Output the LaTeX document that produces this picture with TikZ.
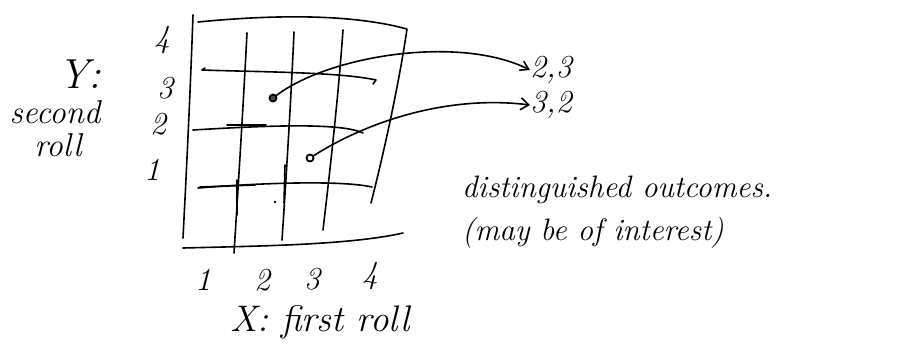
\documentclass[tikz,border=0pt]{standalone}
\usetikzlibrary{arrows.meta}
\begin{document}
\begin{tikzpicture}[x=1pt,y=-1pt,
  ink/.style={line width=1.6pt,line cap=round,line join=round},
  hand/.style={font=\itshape\fontsize{31}{34}\selectfont,inner sep=0pt},
  lab/.style={font=\itshape\fontsize{32}{34}\selectfont,inner sep=0pt},
  dotmark/.style={circle,draw,line width=1.8pt,minimum size=7pt,inner sep=0pt}]
\useasboundingbox (0,0) rectangle (902,359);
% outer frame
\draw[ink] (193,15) .. controls (190,100) and (186,180) .. (183,238);
\draw[ink] (198,22) .. controls (270,15) and (340,14) .. (395,26) -- (407,29)
  .. controls (398,90) and (382,160) .. (371,203);
\draw[ink] (183,248) .. controls (260,246) and (350,245) .. (403,233);
% vertical grid lines
\draw[ink] (247,33) .. controls (243,110) and (238,190) .. (234,253);
\draw[ink] (294,32) .. controls (291,100) and (286,180) .. (282,240);
\draw[ink] (343,30) .. controls (338,100) and (330,170) .. (323,230);
% horizontal grid lines
\draw[ink] (205,68) -- (202,70) .. controls (260,72) and (340,72) .. (376,80) -- (373,84);
\draw[ink] (193,130) .. controls (260,126) and (340,122) .. (363,133);
\draw[ink] (227,125) -- (266,125);
\draw[ink] (198,188) .. controls (260,183) and (340,180) .. (372,187);
\draw[ink] (200,187) -- (255,185);
\draw[ink] (237,180) -- (237,215);
\draw[ink] (285,165) -- (284,203);
\fill (275,202) circle (1.3pt);
% dots
\node[dotmark,fill=black!70] (d23) at (273,98) {};
\node[dotmark] (d32) at (310,158) {};
% outcome labels
\node[lab,anchor=west] (o23) at (530,70) {2,3};
\node[lab,anchor=west] (o32) at (530,105) {3,2};
\draw[ink,-{Straight Barb[length=8pt,width=10pt]}] (d23) .. controls (330,55) and (460,35) .. (o23.west);
\draw[ink,-{Straight Barb[length=8pt,width=12pt]}] (d32) .. controls (370,120) and (450,95) .. (o32.west);
% axis labels
\node[lab] (y4) at (162,40) {4};
\node[lab] (y3) at (165,88) {3};
\node[lab] (y2) at (158,124) {2};
\node[lab] (y1) at (152,170) {1};
\node[lab] (x1) at (203,280) {1};
\node[lab] (x2) at (262,280) {2};
\node[lab] (x3) at (312,279) {3};
\node[lab] (x4) at (370,276) {4};
\node[lab,font=\itshape\fontsize{42}{44}\selectfont] (ylab) at (80,74) {Y:};
\node[hand,font=\itshape\fontsize{33}{36}\selectfont] (second) at (55,112) {second};
\node[hand,font=\itshape\fontsize{33}{36}\selectfont] (roll) at (58,145) {roll};
\node[hand,font=\itshape\fontsize{37}{40}\selectfont] (xlab) at (320,322) {X: first roll};
\node[hand,anchor=west] (dist) at (462,190) {distinguished outcomes.};
\node[hand,anchor=west] (may) at (462,233) {(may be of interest)};
\end{tikzpicture}
\end{document}
